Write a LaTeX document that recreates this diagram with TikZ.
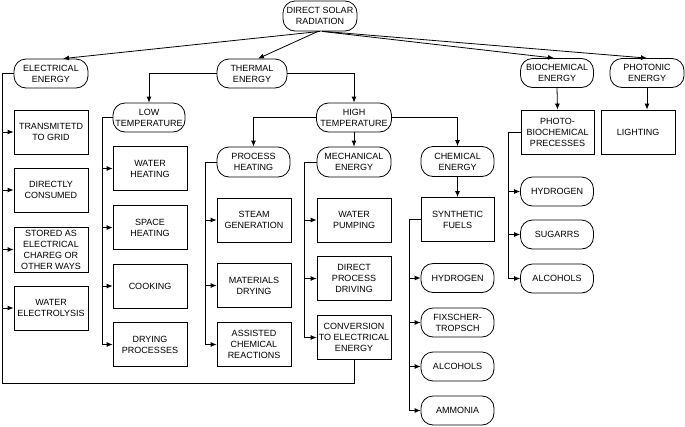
\documentclass[tikz,border=0pt]{standalone}
\usepackage{fontspec}
\setmainfont{Liberation Sans}
\usetikzlibrary{arrows.meta}
\begin{document}
\begin{tikzpicture}[x=1pt,y=-1pt,
  every node/.style={font=\fontsize{9}{11}\selectfont, align=center, inner sep=0pt},
  pill/.style={draw, line width=0.8pt, rounded corners=12pt, minimum width=74pt, minimum height=29pt},
  box/.style={draw, line width=0.8pt, minimum width=74pt, minimum height=44pt},
  conn/.style={line width=0.8pt, -{Latex[length=6pt,width=5pt]}},
  link/.style={line width=0.8pt}]
\useasboundingbox (0,0) rectangle (685,426);
% top levels
\node[pill, minimum height=30pt] (root) at (320,16) {DIRECT SOLAR\\RADIATION};
\node[pill] (elec) at (51,73.5) {ELECTRICAL\\ENERGY};
\node[pill, minimum width=70pt] (thermal) at (252,73.5) {THERMAL\\ENERGY};
\node[pill, minimum width=73pt] (bio) at (557,73) {BIOCHEMICAL\\ENERGY};
\node[pill, minimum width=74pt] (photon) at (647,73) {PHOTONIC\\ENERGY};
\node[pill, minimum width=72pt] (low) at (149,117.5) {LOW\\TEMPERATURE};
\node[pill, minimum width=75pt] (high) at (354,117.5) {HIGH\\TEMPERATURE};
\node[pill, minimum width=73pt, minimum height=30pt] (pheat) at (253.5,162) {PROCESS\\HEATING};
\node[pill, minimum height=30pt] (mech) at (354,162) {MECHANICAL\\ENERGY};
\node[pill, minimum width=73pt, minimum height=30pt] (chem) at (457.5,161.5) {CHEMICAL\\ENERGY};
\node[box, minimum width=73pt] (synth) at (457.5,219.5) {SYNTHETIC\\FUELS};
\node[box, minimum width=73pt] (photo) at (557.5,132) {PHOTO-\\BIOCHEMICAL\\PRECESSES};
\node[box] (light) at (638,132) {LIGHTING};
% electrical children
\node[box] (tgrid) at (51,132) {TRANSMITETD\\TO GRID};
\node[box] (dcons) at (51,190) {DIRECTLY\\CONSUMED};
\node[box, minimum height=45pt] (stored) at (51,249.5) {STORED AS\\ELECTRICAL\\CHAREG OR\\OTHER WAYS};
\node[box] (welec) at (51,308) {WATER\\ELECTROLYSIS};
% low temperature children
\node[box] (wheat) at (150,168.5) {WATER\\HEATING};
\node[box] (sheat) at (150,227.5) {SPACE\\HEATING};
\node[box] (cook) at (150,286) {COOKING};
\node[box] (dry) at (150,344.5) {DRYING\\PROCESSES};
% process heating children
\node[box] (steam) at (254,220) {STEAM\\GENERATION};
\node[box] (matdry) at (254,285.5) {MATERIALS\\DRYING};
\node[box] (assist) at (254,344.5) {ASSISTED\\CHEMICAL\\REACTIONS};
% mechanical children
\node[box] (wpump) at (354,220) {WATER\\PUMPING};
\node[box] (dpd) at (354,278.5) {DIRECT\\PROCESS\\DRIVING};
\node[box] (conv) at (354,337.5) {CONVERSION\\TO ELECTRICAL\\ENERGY};
% synthetic fuel children
\node[pill, minimum width=73pt] (sh2) at (457.5,278) {HYDROGEN};
\node[pill, minimum width=73pt] (ft) at (457.5,322.5) {FIXSCHER-\\TROPSCH};
\node[pill, minimum width=73pt] (salc) at (457.5,366.5) {ALCOHOLS};
\node[pill, minimum width=73pt] (amm) at (457.5,410.5) {AMMONIA};
% photo-biochemical children
\node[pill, minimum width=73pt] (bh2) at (557,191.5) {HYDROGEN};
\node[pill, minimum width=73pt] (sug) at (557,234.5) {SUGARRS};
\node[pill, minimum width=73pt] (balc) at (557,278.5) {ALCOHOLS};
% bus coordinates
\coordinate (ebus) at (2,383);
\coordinate (lbus) at (102,0);
\coordinate (pbus) at (205,0);
\coordinate (mbus) at (304,0);
\coordinate (sbus) at (409,0);
\coordinate (bbus) at (508,0);
% root arrows
\draw[conn] (root.south) -- ([xshift=12pt]elec.north);
\draw[conn] ([xshift=-2pt]root.south) -- ([xshift=6pt]thermal.north);
\draw[conn] ([xshift=2pt]root.south) -- ([xshift=-3pt]bio.north);
\draw[conn] ([xshift=4pt]root.south) -- (photon.north);
% thermal
\draw[conn] (thermal.west) -| (low.north);
\draw[conn] (thermal.east) -| (high.north);
% high temperature
\draw[conn] (high.west) -| (pheat.north);
\draw[conn] (high.south) -- (mech.north);
\draw[conn] (high.east) -| (chem.north);
\draw[conn] (chem.south) -- (synth.north);
% biochemical / photonic
\draw[conn] (bio.south) -- (photo.north);
\draw[conn] (photon.south) -- (photon.south |- light.north);
% electrical bus with feedback from conversion
\draw[link] (elec.west) -| (ebus) -| (conv.south);
\foreach \c in {tgrid,dcons,stored,welec}
  \draw[conn] (ebus |- \c.west) -- (\c.west);
% low temperature bus
\draw[link] (low.west) -| (lbus |- dry.west);
\foreach \c in {wheat,sheat,cook,dry}
  \draw[conn] (lbus |- \c.west) -- (\c.west);
% process heating bus
\draw[link] (pheat.west) -| (pbus |- assist.west);
\foreach \c in {steam,matdry,assist}
  \draw[conn] (pbus |- \c.west) -- (\c.west);
% mechanical bus
\draw[link] (mech.west) -| (mbus |- conv.west);
\foreach \c in {wpump,dpd,conv}
  \draw[conn] (mbus |- \c.west) -- (\c.west);
% synthetic fuels bus
\draw[link] (synth.west) -| (sbus |- amm.west);
\foreach \c in {sh2,ft,salc,amm}
  \draw[conn] (sbus |- \c.west) -- (\c.west);
% photo-biochemical bus
\draw[link] (photo.west) -| (bbus |- balc.west);
\foreach \c in {bh2,sug,balc}
  \draw[conn] (bbus |- \c.west) -- (\c.west);
\end{tikzpicture}
\end{document}
